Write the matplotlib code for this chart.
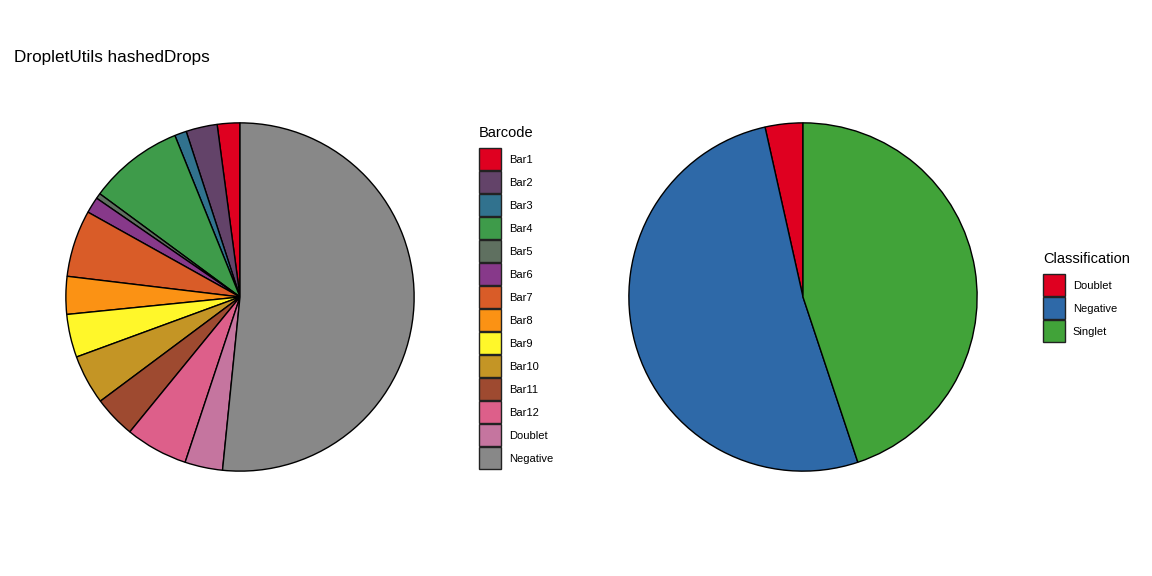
import matplotlib
matplotlib.use("Agg")
import matplotlib.pyplot as plt
from matplotlib.patches import Patch

plt.rcParams['font.family'] = ['Liberation Sans', 'DejaVu Sans']

# barcode assignment shares (percent of droplets)
barcodes = ['Bar1', 'Bar2', 'Bar3', 'Bar4', 'Bar5', 'Bar6', 'Bar7', 'Bar8',
            'Bar9', 'Bar10', 'Bar11', 'Bar12', 'Doublet', 'Negative']
barcode_pct = [2.1, 2.9, 1.1, 8.8, 0.5, 1.5, 6.2, 3.5, 4.0, 4.6, 3.9, 5.8, 3.5, 51.6]
barcode_cols = ['#DF0020', '#634369', '#31728E', '#3E9B4A', '#5F7060', '#87398A',
                '#D95C28', '#FB9214', '#FFF72A', '#C49525', '#9E4A30', '#DD5F8A',
                '#C5759F', '#888888']

# classification shares (percent)
classes = ['Doublet', 'Negative', 'Singlet']
class_pct = [3.5, 51.6, 44.9]
class_cols = ['#DF0020', '#2E69A8', '#41A339']

W, H = 1152, 576
fig = plt.figure(figsize=(W / 100, H / 100), dpi=100)

def pie_axes(cx, cy, r):
    return fig.add_axes([(cx - r) / W, 1 - (cy + r) / H, 2 * r / W, 2 * r / H])

wp = dict(edgecolor='black', linewidth=1)

ax1 = pie_axes(240, 297, 175)
ax1.pie(barcode_pct, colors=barcode_cols, startangle=90, counterclock=True, wedgeprops=wp)
ax1.set_xlim(-1.005, 1.005)
ax1.set_ylim(-1.005, 1.005)

ax2 = pie_axes(803, 297, 175)
ax2.pie(class_pct, colors=class_cols, startangle=90, counterclock=True, wedgeprops=wp)
ax2.set_xlim(-1.005, 1.005)
ax2.set_ylim(-1.005, 1.005)

fig.text(14 / W, 1 - 62 / H, 'DropletUtils hashedDrops', fontsize=12.3, ha='left', va='baseline')

def add_legend(names, cols, title, x, y):
    handles = [Patch(facecolor=c, edgecolor='#222222', linewidth=1) for c in cols]
    leg = fig.legend(handles, names, title=title, loc='upper left',
                     bbox_to_anchor=(x / W, 1 - y / H), bbox_transform=fig.transFigure,
                     frameon=False, fontsize=8, title_fontsize=10.5, alignment='left',
                     handlelength=1.98, handleheight=2.67, labelspacing=0.09,
                     handletextpad=0.7, borderpad=0, borderaxespad=0)
    leg._legend_box.sep = 6
    return leg

add_legend(barcodes, barcode_cols, 'Barcode', 479, 126)
add_legend(classes, class_cols, 'Classification', 1043, 252)

fig.savefig('out.png', dpi=100)
